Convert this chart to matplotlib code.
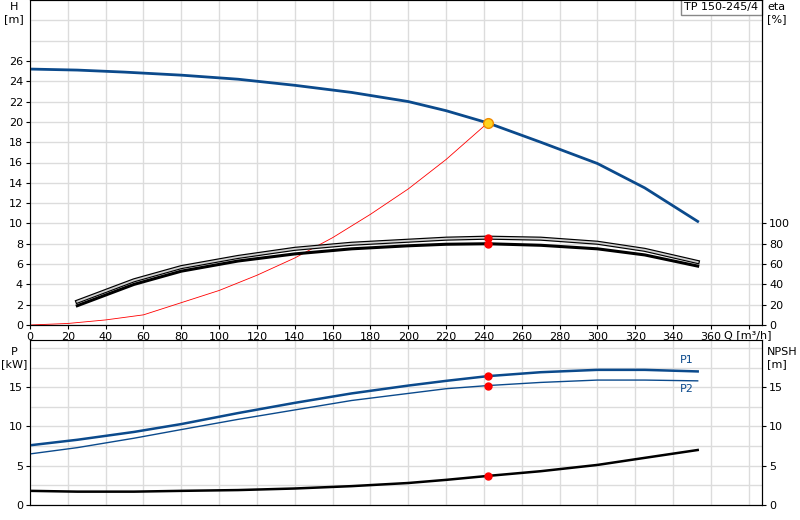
import matplotlib
matplotlib.use("Agg")
import matplotlib.pyplot as plt

# pump curve data
q_h = [0, 25, 50, 80, 110, 140, 170, 200, 220, 242, 270, 300, 325, 353]
head = [25.2, 25.1, 24.9, 24.6, 24.2, 23.6, 22.9, 22.0, 21.1, 19.9, 18.0, 15.9, 13.5, 10.2]

q_eta = [25, 55, 80, 110, 140, 170, 200, 220, 242, 270, 300, 325, 353]
eta_upper = [23, 44, 57, 67, 75, 80, 83, 85, 86, 85, 81, 74, 62]
eta_lower = [19, 40, 53, 63, 70, 75, 78, 79.5, 80, 78.5, 75, 69, 58]

q_sys = [0, 20, 40, 60, 80, 100, 120, 140, 160, 180, 200, 220, 242]
h_sys = [0, 0.15, 0.5, 1.0, 2.2, 3.4, 4.9, 6.6, 8.6, 10.9, 13.4, 16.3, 19.9]

q_p = [0, 25, 55, 80, 110, 140, 170, 200, 220, 242, 270, 300, 325, 353]
p1 = [7.6, 8.3, 9.3, 10.3, 11.7, 13.0, 14.2, 15.2, 15.8, 16.4, 16.9, 17.2, 17.2, 17.0]
p2 = [6.5, 7.3, 8.5, 9.6, 10.9, 12.1, 13.3, 14.2, 14.8, 15.2, 15.6, 15.9, 15.9, 15.8]
npsh = [1.8, 1.7, 1.7, 1.8, 1.9, 2.1, 2.4, 2.8, 3.2, 3.7, 4.3, 5.1, 6.0, 7.0]

q_op = 242
h_op = 19.9
eta_op = [86, 80]
p_op = [16.4, 15.2]
npsh_op = 3.7

BLUE = "#0b4a8c"
GRID = "#dcdcdc"
plt.rcParams["font.family"] = ["DejaVu Sans"]
plt.rcParams["font.size"] = 8

fig = plt.figure(figsize=(8, 5.2), dpi=100)
ax = fig.add_axes([30 / 800, 1 - 325 / 520, 732 / 800, 325 / 520])
axb = fig.add_axes([30 / 800, 1 - 505 / 520, 732 / 800, 165 / 520])

QMAX = 387
for a in (ax, axb):
    a.set_xlim(0, QMAX)
    a.set_xticks(range(0, 381, 20))
    a.grid(True, color=GRID, lw=1)
    a.set_axisbelow(True)
    a.spines["top"].set_color("#999999")
    a.spines["left"].set_color("#999999")
    a.tick_params(length=3, pad=2)

# top chart
ax.set_ylim(0, 32)
ax.set_yticks(range(0, 27, 2))
ax.set_yticks(range(28, 33, 2), minor=True)
ax.grid(True, which="minor", axis="y", color=GRID, lw=1)
ax.tick_params(which="minor", length=0)
ax.set_xticklabels([str(v) if v <= 360 else "" for v in range(0, 381, 20)])
ax.plot(q_h, head, color=BLUE, lw=2)
ax.plot(q_sys, h_sys, color="red", lw=0.6)
ax.plot(q_eta, [v / 10 for v in eta_upper], color="black", lw=3.0)
ax.plot(q_eta, [v / 10 for v in eta_upper], color="#d0d0d0", lw=1.3)
ax.plot(q_eta, [v / 10 for v in eta_lower], color="black", lw=2.2)
ax.plot([q_op, q_op], [v / 10 for v in eta_op], "o", color="red", ms=5)
ax.plot(q_op, h_op, "o", color="#ffd21f", mec="#f08a00", ms=7)
ax.text(367, -0.55, "Q [m³/h]", ha="left", va="top", fontsize=8)

axr = ax.twinx()
axr.set_ylim(0, 320)
axr.set_yticks(range(0, 101, 20))
axr.tick_params(length=3, pad=2)
fig.text(14 / 800, 1 - 2 / 520, "H\n[m]", ha="center", va="top", fontsize=8)
fig.text(767 / 800, 1 - 2 / 520, "eta\n[%]", ha="left", va="top", fontsize=8)
ax.text(0.995, 0.995, "TP 150-245/4", transform=ax.transAxes, ha="right", va="top",
        fontsize=8, bbox=dict(facecolor="white", edgecolor="#888888", boxstyle="square,pad=0.3"))

# bottom chart
axb.set_ylim(0, 21)
axb.set_yticks([0, 5, 10, 15])
axb.set_yticks([2.5, 7.5, 12.5, 17.5, 20], minor=True)
axb.grid(True, which="minor", axis="y", color=GRID, lw=1)
axb.tick_params(which="minor", length=0)
axb.tick_params(axis="x", length=0)
axb.set_xticklabels([])
axb.plot(q_p, p1, color=BLUE, lw=1.8)
axb.plot(q_p, p2, color=BLUE, lw=1)
axb.plot(q_p, npsh, color="black", lw=1.8)
axb.plot([q_op, q_op], p_op, "o", color="red", ms=5)
axb.plot(q_op, npsh_op, "o", color="red", ms=5)
axb.text(q_p[-1] - 2, p1[-1] + 0.8, "P1", color=BLUE, ha="right", va="bottom", fontsize=8)
axb.text(q_p[-1] - 2, p2[-1] - 0.4, "P2", color=BLUE, ha="right", va="top", fontsize=8)
fig.text(14 / 800, 1 - 347 / 520, "P\n[kW]", ha="center", va="top", fontsize=8)
axbr = axb.twinx()
axbr.set_ylim(0, 21)
axbr.set_yticks([0, 5, 10, 15])
axbr.tick_params(length=3, pad=2)
fig.text(767 / 800, 1 - 347 / 520, "NPSH\n[m]", ha="left", va="top", fontsize=8)

fig.savefig("out.png", dpi=100)
